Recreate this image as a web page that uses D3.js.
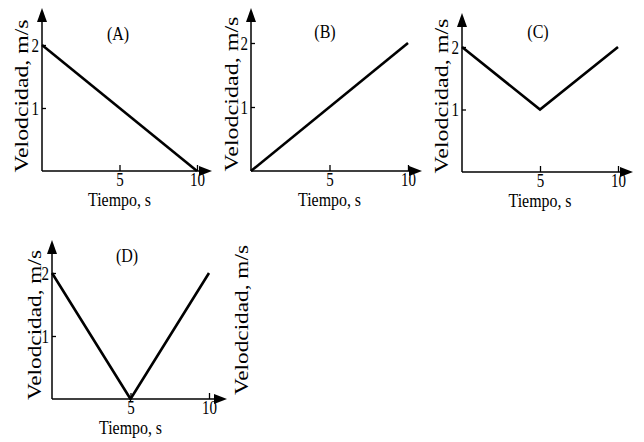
<!DOCTYPE html>
<html>
<head>
<meta charset="utf-8">
<script src="https://cdn.jsdelivr.net/npm/d3@7"></script>
<style>
  body { margin: 0; background: #fff; }
  svg { display: block; }
</style>
</head>
<body>
<div id="chart"></div>
<script>
// values
const tiempoA = [0, 10], velocidadA = [2, 0]
const tiempoB = [0, 10], velocidadB = [0, 2]
const tiempoC = [0, 5, 10], velocidadC = [2, 1, 2]
const tiempoD = [0, 5, 10], velocidadD = [2, 0, 2]
const xTicks = [5, 10]
const yTicks = [1, 2]
const titles = ["(A)", "(B)", "(C)", "(D)"]
const xLabel = "Tiempo, s"
const yLabel = "Velodcidad, m/s"

// the scan is a bit stretched vertically, so the text is too
const stretch = 1.2
const serif = "Liberation Serif, Times New Roman, serif"

// where each little graph sits on the page (pixels)
const layout = [
  { left: 42, right10: 197, bottom: 171, top2: 45, arrowTop: 8, arrowRight: 212, titleX: 118, titleY: 40, ylabX: 28, ylabY: 96, ylabLen: 153 },
  { left: 251, right10: 408, bottom: 171, top2: 43, arrowTop: 8, arrowRight: 422, titleX: 325, titleY: 38, ylabX: 238, ylabY: 94, ylabLen: 155 },
  { left: 462, right10: 618, bottom: 172, top2: 47, arrowTop: 13, arrowRight: 633, titleX: 538, titleY: 38, ylabX: 448, ylabY: 96, ylabLen: 155 },
  { left: 52, right10: 209, bottom: 399, top2: 273, arrowTop: 240, arrowRight: 227, titleX: 127, titleY: 262, ylabX: 41, ylabY: 325, ylabLen: 150 }
]

const series = [
  { t: tiempoA, v: velocidadA },
  { t: tiempoB, v: velocidadB },
  { t: tiempoC, v: velocidadC },
  { t: tiempoD, v: velocidadD }
]

const svg = d3.select("#chart")
  .append("svg")
    .attr("width", 644)
    .attr("height", 442)
    .attr("font-family", serif)

// horizontal text drawn with the vertical stretch
function stretchedText(parent, str, x, y, size, len) {
  const t = parent.append("text")
    .attr("transform", `translate(${x},${y}) scale(1,${stretch})`)
    .attr("text-anchor", "middle")
    .attr("font-family", serif)
    .attr("font-size", size)
    .attr("fill", "#000")
    .text(str)
  if (len) t.attr("textLength", len).attr("lengthAdjust", "spacingAndGlyphs")
  return t
}

// rotated axis title
function verticalText(parent, str, x, y, len) {
  return parent.append("text")
    .attr("transform", `translate(${x},${y}) rotate(-90)`)
    .attr("text-anchor", "middle")
    .attr("font-family", serif)
    .attr("font-size", 19)
    .attr("fill", "#000")
    .attr("textLength", len)
    .attr("lengthAdjust", "spacingAndGlyphs")
    .text(str)
}

series.forEach(function(s, i) {
  const L = layout[i]
  const g = svg.append("g")

  const x = d3.scaleLinear().domain([0, 10]).range([L.left, L.right10])
  const y = d3.scaleLinear().domain([0, 2]).range([L.bottom, L.top2])

  // axis lines with arrow heads
  g.append("line")
    .attr("x1", L.left).attr("y1", L.bottom)
    .attr("x2", L.arrowRight - 8).attr("y2", L.bottom)
    .attr("stroke", "#000").attr("stroke-width", 1.5)
  g.append("line")
    .attr("x1", L.left).attr("y1", L.bottom)
    .attr("x2", L.left).attr("y2", L.arrowTop + 8)
    .attr("stroke", "#000").attr("stroke-width", 1.5)
  g.append("path")
    .attr("d", `M${L.arrowRight},${L.bottom} L${L.arrowRight - 13},${L.bottom - 5} L${L.arrowRight - 13},${L.bottom + 5} Z`)
    .attr("fill", "#000")
  g.append("path")
    .attr("d", `M${L.left},${L.arrowTop} L${L.left - 5},${L.arrowTop + 14} L${L.left + 5},${L.arrowTop + 14} Z`)
    .attr("fill", "#000")

  // x axis ticks (point inward)
  const xa = g.append("g")
    .attr("transform", `translate(0,${L.bottom})`)
    .call(d3.axisBottom(x).tickValues(xTicks).tickSize(-6).tickFormat(d3.format("d")))
    .attr("font-family", serif)
  xa.select(".domain").remove()
  xa.selectAll("line").attr("stroke", "#000").attr("stroke-width", 1.3)
  xa.selectAll("text")
    .attr("y", null).attr("dy", null)
    .attr("fill", "#000")
    .attr("font-size", 15)
    .attr("transform", `translate(0,15) scale(1,${stretch})`)

  // y axis ticks (point inward)
  const ya = g.append("g")
    .attr("transform", `translate(${L.left},0)`)
    .call(d3.axisLeft(y).tickValues(yTicks).tickSize(-4).tickFormat(d3.format("d")))
    .attr("font-family", serif)
  ya.select(".domain").remove()
  ya.selectAll("line").attr("stroke", "#000").attr("stroke-width", 1.3)
  ya.selectAll("text")
    .attr("x", null).attr("dy", null)
    .attr("fill", "#000")
    .attr("font-size", 15)
    .attr("transform", `translate(-3,6) scale(1,${stretch})`)

  // the velocity line
  const pts = s.t.map(function(t, k) { return [t, s.v[k]] })
  g.append("path")
    .datum(pts)
    .attr("fill", "none")
    .attr("stroke", "#000")
    .attr("stroke-width", 2.6)
    .attr("stroke-linejoin", "miter")
    .attr("d", d3.line()
      .x(function(d) { return x(d[0]) })
      .y(function(d) { return y(d[1]) })
    )

  // title
  stretchedText(g, titles[i], L.titleX, L.titleY, 16)

  // axis titles
  stretchedText(g, xLabel, (L.left + L.right10) / 2, L.bottom + 35, 16, 63)
  verticalText(g, yLabel, L.ylabX, L.ylabY, L.ylabLen)
})

// the stray second axis title to the right of graph D
verticalText(svg, yLabel, 248, 320, 150)
</script>
</body>
</html>
